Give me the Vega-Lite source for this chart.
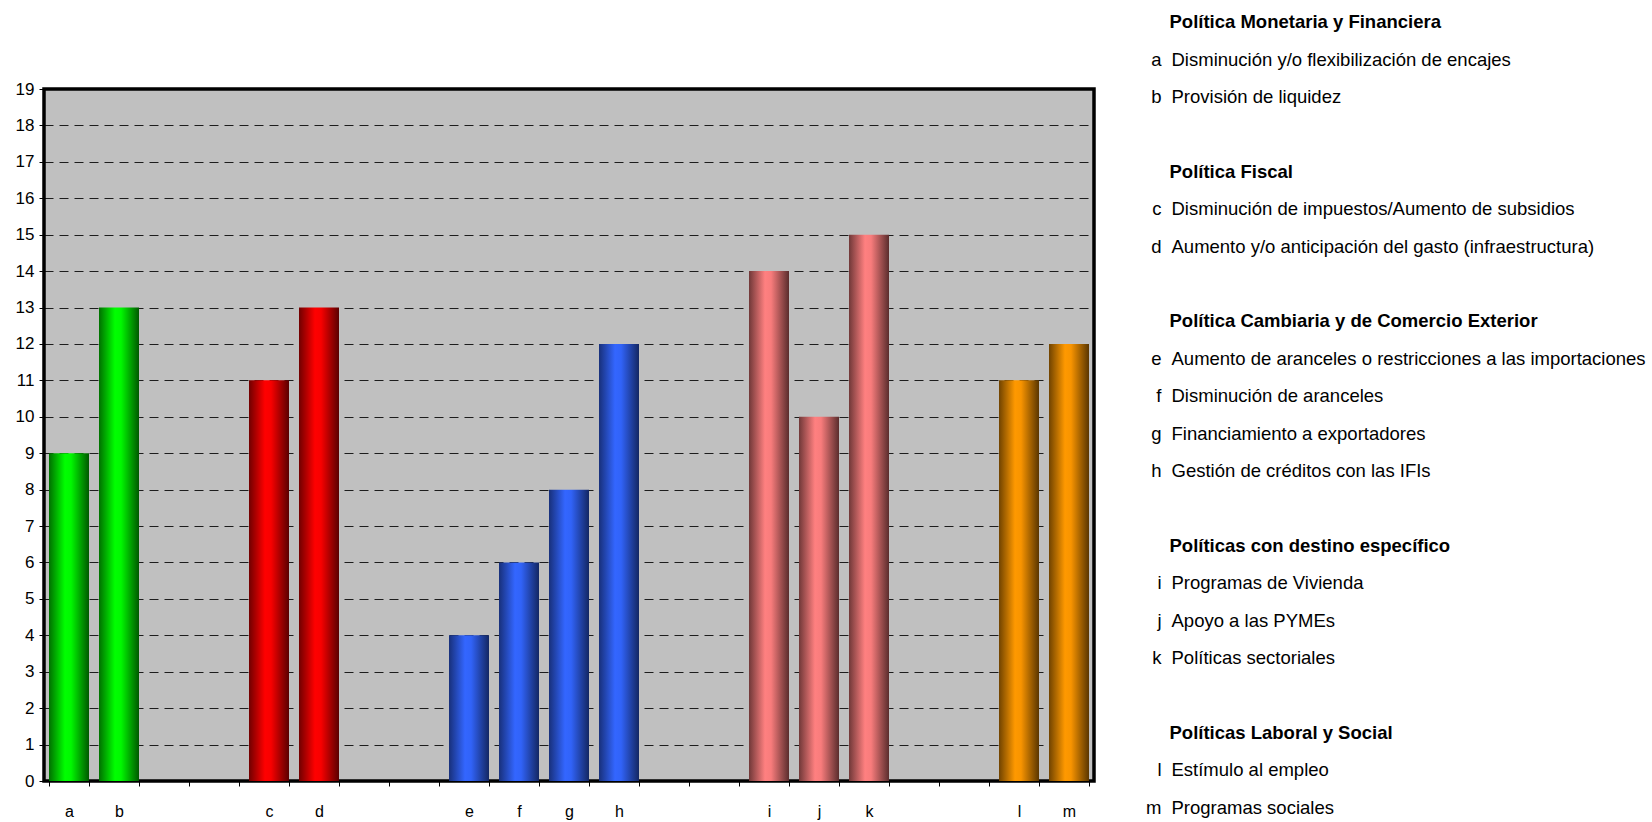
{
  "$schema": "https://vega.github.io/schema/vega-lite/v6.json",
  "padding": {"left": 13, "top": 13, "right": 0, "bottom": 0},
  "background": "white",
  "config": {"font": "Liberation Sans", "concat": {"spacing": 50}},
  "datasets": {
    "bars": [
      {"cat": "a", "value": 9, "group": "mon"},
      {"cat": "b", "value": 13, "group": "mon"},
      {"cat": "c", "value": 11, "group": "fis"},
      {"cat": "d", "value": 13, "group": "fis"},
      {"cat": "e", "value": 4, "group": "cam"},
      {"cat": "f", "value": 6, "group": "cam"},
      {"cat": "g", "value": 8, "group": "cam"},
      {"cat": "h", "value": 12, "group": "cam"},
      {"cat": "i", "value": 14, "group": "esp"},
      {"cat": "j", "value": 10, "group": "esp"},
      {"cat": "k", "value": 15, "group": "esp"},
      {"cat": "l", "value": 11, "group": "lab"},
      {"cat": "m", "value": 12, "group": "lab"}
    ],
    "legend": [
      {"key": "h1", "kind": "header", "text": "Política Monetaria y Financiera"},
      {"key": "a", "kind": "item", "text": "Disminución y/o flexibilización de encajes"},
      {"key": "b", "kind": "item", "text": "Provisión de liquidez"},
      {"key": "h2", "kind": "header", "text": "Política Fiscal"},
      {"key": "c", "kind": "item", "text": "Disminución de impuestos/Aumento de subsidios"},
      {"key": "d", "kind": "item", "text": "Aumento y/o anticipación del gasto (infraestructura)"},
      {"key": "h3", "kind": "header", "text": "Política Cambiaria y de Comercio Exterior"},
      {"key": "e", "kind": "item", "text": "Aumento de aranceles o restricciones a las importaciones"},
      {"key": "f", "kind": "item", "text": "Disminución de aranceles"},
      {"key": "g", "kind": "item", "text": "Financiamiento a exportadores"},
      {"key": "h", "kind": "item", "text": "Gestión de créditos con las IFIs"},
      {"key": "h4", "kind": "header", "text": "Políticas con destino específico"},
      {"key": "i", "kind": "item", "text": "Programas de Vivienda"},
      {"key": "j", "kind": "item", "text": "Apoyo a las PYMEs"},
      {"key": "k", "kind": "item", "text": "Políticas sectoriales"},
      {"key": "h5", "kind": "header", "text": "Políticas Laboral y Social"},
      {"key": "l", "kind": "item", "text": "Estímulo al empleo"},
      {"key": "m", "kind": "item", "text": "Programas sociales"}
    ]
  },
  "hconcat": [
    {
      "width": 1050,
      "height": 692,
      "view": {"fill": "#C0C0C0", "stroke": "black", "strokeWidth": 3.5},
      "data": {"name": "bars"},
      "encoding": {
        "x": {
          "field": "cat", "type": "nominal",
          "scale": {
            "domain": ["a","b","s1","s2","c","d","s3","s4","e","f","g","h","s5","s6","i","j","k","s7","s8","l","m"],
            "paddingInner": 0.2, "paddingOuter": 0.1
          },
          "axis": {
            "title": null, "labelAngle": 0, "domain": false, "grid": false,
            "tickBand": "extent", "tickColor": "black", "tickSize": 5,
            "labelPadding": 17, "labelFontSize": 16, "labelColor": "black",
            "labelFont": "Liberation Sans",
            "labelExpr": "isString(datum.label) && length(datum.label) == 1 ? datum.label : ''"
          }
        },
        "y": {
          "field": "value", "type": "quantitative",
          "scale": {"domain": [0, 19], "nice": false},
          "axis": {
            "title": null, "values": [0,1,2,3,4,5,6,7,8,9,10,11,12,13,14,15,16,17,18,19],
            "domain": false, "grid": true, "gridDash": [9, 6], "gridColor": "black",
            "gridOpacity": 0.85, "gridWidth": 1,
            "tickColor": "black", "tickSize": 5, "labelPadding": 5,
            "labelFontSize": 17, "labelColor": "black", "labelFont": "Liberation Sans"
          }
        }
      },
      "layer": [
        {
          "transform": [{"filter": "datum.group == 'mon'"}],
          "mark": {"type": "bar", "fill": {"gradient": "linear", "x1": 0, "x2": 1, "y1": 0, "y2": 0,
            "stops": [{"offset": 0, "color": "#007000"}, {"offset": 0.4, "color": "#00FF00"}, {"offset": 0.55, "color": "#00F800"}, {"offset": 1, "color": "#005800"}]}}
        },
        {
          "transform": [{"filter": "datum.group == 'fis'"}],
          "mark": {"type": "bar", "fill": {"gradient": "linear", "x1": 0, "x2": 1, "y1": 0, "y2": 0,
            "stops": [{"offset": 0, "color": "#700000"}, {"offset": 0.4, "color": "#FF0000"}, {"offset": 0.55, "color": "#F80000"}, {"offset": 1, "color": "#5A0000"}]}}
        },
        {
          "transform": [{"filter": "datum.group == 'cam'"}],
          "mark": {"type": "bar", "fill": {"gradient": "linear", "x1": 0, "x2": 1, "y1": 0, "y2": 0,
            "stops": [{"offset": 0, "color": "#18307A"}, {"offset": 0.4, "color": "#3366FF"}, {"offset": 0.55, "color": "#3163F8"}, {"offset": 1, "color": "#132763"}]}}
        },
        {
          "transform": [{"filter": "datum.group == 'esp'"}],
          "mark": {"type": "bar", "fill": {"gradient": "linear", "x1": 0, "x2": 1, "y1": 0, "y2": 0,
            "stops": [{"offset": 0, "color": "#703838"}, {"offset": 0.4, "color": "#FF8080"}, {"offset": 0.55, "color": "#F87C7C"}, {"offset": 1, "color": "#5A2D2D"}]}}
        },
        {
          "transform": [{"filter": "datum.group == 'lab'"}],
          "mark": {"type": "bar", "fill": {"gradient": "linear", "x1": 0, "x2": 1, "y1": 0, "y2": 0,
            "stops": [{"offset": 0, "color": "#704300"}, {"offset": 0.4, "color": "#FF9900"}, {"offset": 0.55, "color": "#F89400"}, {"offset": 1, "color": "#5A3600"}]}}
        }
      ]
    },
    {
      "width": 1,
      "height": 692,
      "view": {"stroke": null, "fill": null},
      "data": {"name": "legend"},
      "encoding": {
        "y": {
          "field": "key", "type": "nominal",
          "scale": {
            "type": "band",
            "domain": ["h1","a","b","sp1","h2","c","d","sp2","h3","e","f","g","h","sp3","h4","i","j","k","sp4","h5","l","m"],
            "range": [-85.5, 737.5],
            "paddingInner": 0, "paddingOuter": 0
          },
          "axis": null
        }
      },
      "layer": [
        {
          "transform": [{"filter": "datum.kind == 'item'"}],
          "mark": {"type": "text", "align": "right", "baseline": "middle", "font": "Liberation Sans", "fontSize": 18.5, "color": "black"},
          "encoding": {"text": {"field": "key"}}
        },
        {
          "transform": [{"filter": "datum.kind == 'item'"}],
          "mark": {"type": "text", "align": "left", "baseline": "middle", "dx": 10, "font": "Liberation Sans", "fontSize": 18.5, "color": "black"},
          "encoding": {"text": {"field": "text"}}
        },
        {
          "transform": [{"filter": "datum.kind == 'header'"}],
          "mark": {"type": "text", "align": "left", "baseline": "middle", "dx": 8, "font": "Liberation Sans", "fontSize": 18.5, "fontWeight": "bold", "color": "black"},
          "encoding": {"text": {"field": "text"}}
        }
      ]
    }
  ]
}
